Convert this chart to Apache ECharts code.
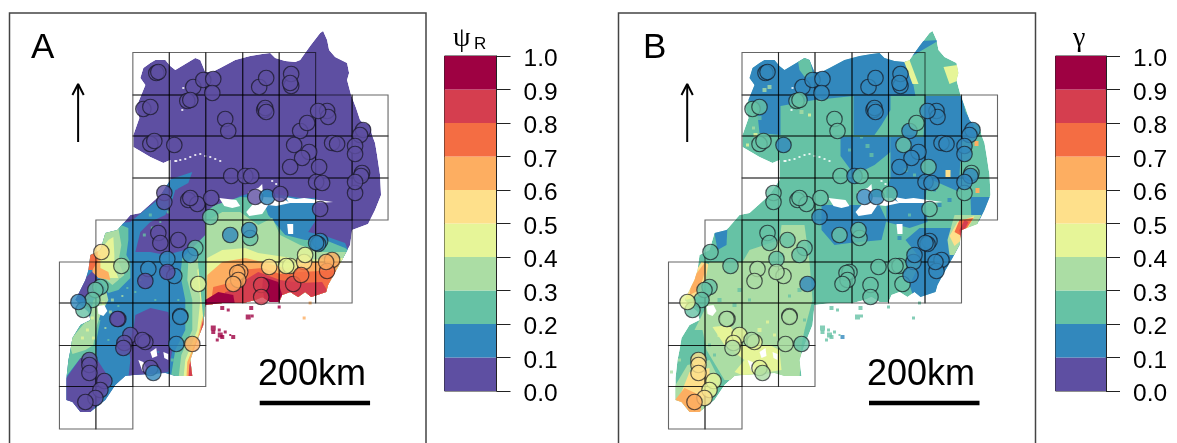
<!DOCTYPE html>
<html><head><meta charset="utf-8">
<style>html,body{margin:0;padding:0;background:#fff}#c{width:1177px;height:443px}</style>
<script src="https://cdn.jsdelivr.net/npm/echarts@6/dist/echarts.min.js"></script>
</head><body><div id="c"></div>
<script>
// ten legend classes, 0.0-0.1 ... 0.9-1.0
const classColors = ['#5E4FA2','#3288BD','#66C2A5','#ABDDA4','#E6F598','#FEE08B','#FDAE61','#F46D43','#D53E4F','#9E0142'];
const classNames = [0,1,2,3,4,5,6,7,8,9];

// map frame units; panel A and B share the same geography
const outline = [[140,78],[143,68],[150,63],[155,60],[165,60],[170,66],[175,70],[185,64],[195,58],[200,60],[205,72],[212,72],[220,68],[235,60],[250,56],[262,54],[270,53],[275,58],[285,61],[295,62],[300,60],[310,46],[320,33],[323,31],[327,40],[329,50],[335,57],[347,63],[349,73],[347,80],[351,95],[356,108],[360,120],[362,122],[370,125],[372,135],[375,143],[377,155],[380,175],[381,195],[375,210],[368,224],[352,230],[350,245],[343,258],[335,272],[328,285],[326,292],[311,297],[305,292],[298,297],[290,292],[282,295],[279,302],[270,302],[262,297],[255,300],[243,303],[222,303],[205,305],[203,325],[195,345],[190,360],[192,376],[175,376],[165,373],[133,375],[125,376],[115,385],[105,400],[90,412],[80,412],[72,402],[66,400],[66,378],[68,360],[70,350],[72,338],[80,325],[90,320],[88,312],[75,300],[85,280],[88,270],[90,255],[100,250],[105,233],[117,230],[130,215],[140,213],[160,195],[170,180],[170,160],[163,163],[150,157],[133,147],[133,135],[139,118],[136,107],[145,85]];

const aBlueSouth = [[60,230],[100,225],[130,222],[142,212],[160,198],[168,180],[192,172],[188,183],[175,190],[171,203],[165,215],[150,222],[140,232],[135,252],[150,252],[165,255],[185,250],[200,250],[205,235],[207,213],[222,205],[240,196],[262,190],[280,195],[300,198],[316,198],[316,220],[308,232],[325,236],[345,243],[350,255],[360,262],[360,330],[230,330],[205,400],[60,430]];
const aPurpleCentre = [[135,315],[150,308],[168,312],[170,325],[168,345],[172,350],[168,372],[128,378],[130,360],[128,345],[133,330]];
const aPurpleSouthWest = [[80,358],[97,360],[110,380],[100,400],[88,415],[78,415],[62,402],[66,378]];
const aPurpleWest = [[72,300],[85,278],[95,268],[98,285],[88,300]];
const aTealWest = [[104,226],[118,224],[128,228],[128,240],[126,255],[130,262],[130,278],[118,290],[108,293],[100,280],[95,265],[85,258],[95,245]];
const aGreenWest = [[106,228],[118,228],[121,245],[118,262],[124,275],[112,285],[100,275],[92,262],[95,248]];
const aYellowWest = [[108,240],[113,237],[114,255],[114,268],[118,278],[108,278],[96,265],[92,255],[100,250]];
const aOrangeWest = [[92,255],[100,255],[100,268],[108,272],[110,280],[98,278],[92,272]];
const aRedOrangeWest = [[85,252],[98,250],[97,262],[92,270],[85,270]];
const aTealSouthWest = [[60,335],[85,316],[100,320],[95,345],[97,360],[80,358],[67,375],[60,390]];
const aGreenSouthWest = [[68,342],[85,322],[97,320],[93,345],[85,350],[72,354]];
const aMosaicWest = [[93,300],[106,292],[108,300],[100,315],[95,330],[88,325]];
const aTealEast = [[182,258],[205,235],[230,300],[210,340],[195,380],[170,380],[175,350],[185,330],[185,300],[180,275]];
const aGreenEast = [[188,262],[205,240],[230,300],[215,340],[198,380],[178,380],[181,355],[192,330],[192,300],[187,280]];
const aYellowEast = [[197,270],[210,255],[230,300],[215,340],[198,380],[183,380],[185,360],[197,330],[200,300]];
const aOrangeEast = [[205,275],[220,265],[235,300],[215,340],[198,380],[186,380],[187,362],[198,335],[204,310],[207,295]];
const aRedEast = [[210,290],[230,295],[215,340],[198,380],[188,380],[189,365],[198,340]];
const aTealMid = [[205,212],[215,205],[240,197],[262,198],[268,215],[285,235],[305,240],[325,240],[345,248],[360,260],[360,340],[205,340],[197,255],[205,235]];
const aGreenMid = [[205,222],[222,212],[240,212],[258,225],[272,218],[280,235],[300,245],[320,252],[345,252],[360,260],[360,340],[205,340]];
const aYellowMid = [[207,258],[222,250],[245,248],[258,253],[285,257],[300,260],[345,258],[360,262],[360,340],[205,340]];
const aOrangeMid = [[207,275],[222,262],[245,258],[262,262],[285,268],[310,262],[345,262],[360,268],[360,340],[205,340]];
const aRedOrangeMid = [[213,287],[233,282],[240,270],[262,268],[280,274],[300,272],[340,270],[330,285],[360,340],[205,340]];
const aRedMid = [[225,292],[240,288],[245,280],[258,272],[280,280],[300,283],[322,282],[328,292],[328,340],[205,340]];
const aDarkRedA = [[263,277],[278,282],[282,295],[277,303],[265,303],[262,288]];
const aDarkRedB = [[205,300],[218,292],[233,295],[235,306],[205,310]];

const bBlueNorth = [[130,60],[155,50],[330,40],[296,60],[302,75],[306,96],[281,96],[281,110],[272,125],[265,135],[244,135],[244,96],[205,100],[171,106],[171,135],[150,133],[147,105],[130,95]];
const bTealTop = [[188,58],[200,58],[204,76],[196,78],[190,70]];
const bBlueEast = [[316,96],[352,96],[356,112],[364,125],[366,136],[352,142],[350,175],[350,192],[318,178],[316,200],[318,222],[300,228],[277,222],[277,190],[281,178],[281,137],[314,137]];
const bBlueCentre = [[231,137],[281,137],[281,152],[265,165],[245,175],[231,156]];
const bBlueLake = [[212,205],[270,205],[277,220],[272,240],[240,243],[225,245],[212,230]];
const bBlueSouthEast = [[296,240],[310,228],[345,228],[352,250],[340,275],[328,292],[305,300],[300,285],[312,260]];
const bBlueEdge = [[361,197],[385,197],[375,220],[362,222]];
const bBlueWestTop = [[104,228],[118,226],[117,245],[108,250]];
const bGreenWest = [[90,290],[100,262],[133,262],[140,250],[170,240],[172,225],[195,225],[200,262],[203,300],[195,330],[192,345],[190,380],[130,380],[115,380],[97,350],[93,330],[85,330],[100,300]];
const bYellowWest = [[103,327],[120,325],[133,345],[160,345],[170,350],[172,370],[135,376],[125,372],[135,360],[115,345]];
const bGreenSouthWest = [[78,365],[100,360],[110,380],[105,395],[90,415],[62,405],[66,385]];
const bYellowSouthWest = [[80,372],[100,368],[100,390],[85,408],[68,402]];
const bOrangeSouthWest = [[64,402],[75,388],[90,395],[92,415],[75,415]];
const bYellowStreak = [[92,262],[99,264],[96,280],[90,296],[76,300],[78,285]];
const bOrangeStreak = [[95,263],[95,273],[90,290],[80,295],[82,280]];
const bYellowNorthA = [[334,67],[348,65],[350,80],[340,84]];
const bYellowNorthB = [[294,60],[300,60],[309,84],[303,84]];
const bGreenHot = [[338,240],[345,215],[372,215],[352,255],[340,255]];
const bYellowHot = [[340,236],[348,222],[365,216],[352,240],[345,246]];
const bOrangeHot = [[345,232],[350,220],[364,218],[352,236]];
const bRedHot = [[350,230],[355,220],[359,222],[351,238]];
const bYellowSpots = [[336,170],[341,170],[341,177],[336,177]];
const bOrangeSpotA = [[365,141],[369,141],[369,146],[365,146]];
const bOrangeSpotB = [[366,188],[370,188],[370,193],[366,193]];

const lakeA = [[219,198],[236,200],[240,206],[232,208],[224,206]];
const lakeB = [[248,192],[258,188],[262,184],[263,197],[282,198],[290,203],[276,206],[268,205],[262,214],[249,216],[246,212],[252,205],[248,200]];
const lakeC = [[285,197],[296,199],[304,198],[333,202],[320,203],[300,203],[289,203]];
const lakeD = [[287,224],[293,224],[293,234],[288,234]];
const lakeE = [[97,306],[104,305],[107,311],[103,316],[98,314]];
const lakeF = [[138,360],[143,362],[148,372],[142,371]];
const lakeG = [[150,352],[156,348],[157,356],[152,358]];
const lakeH = [[163,352],[168,354],[168,360],[164,358]];
const lakes = [lakeA,lakeB,lakeC,lakeD,lakeE,lakeF,lakeG,lakeH];
const whiteDots = [[175,161],[180,160],[185,159],[190,157],[195,155],[200,154],[205,156],[210,157],[215,159],[220,161],[176,161],[182,110],[183,88],[272,181],[276,184]];

const layersA = [
 [0,outline],[1,aBlueSouth],[0,aPurpleCentre],[0,aPurpleSouthWest],[0,aPurpleWest],
 [2,aTealSouthWest],[3,aGreenSouthWest],[3,aMosaicWest],
 [2,aTealWest],[3,aGreenWest],[4,aYellowWest],[6,aOrangeWest],[7,aRedOrangeWest],
 [2,aTealEast],[3,aGreenEast],[4,aYellowEast],[6,aOrangeEast],[8,aRedEast],
 [2,aTealMid],[3,aGreenMid],[4,aYellowMid],[6,aOrangeMid],[7,aRedOrangeMid],[8,aRedMid],[9,aDarkRedA],[9,aDarkRedB]
];
const layersB = [
 [2,outline],[1,bBlueNorth],[2,bTealTop],[1,bBlueEast],[1,bBlueCentre],[1,bBlueLake],[1,bBlueSouthEast],[1,bBlueEdge],[1,bBlueWestTop],
 [3,bGreenWest],[4,bYellowWest],[3,bGreenSouthWest],[5,bYellowSouthWest],[6,bOrangeSouthWest],[5,bYellowStreak],[6,bOrangeStreak],
 [4,bYellowNorthA],[4,bYellowNorthB],[3,bGreenHot],[5,bYellowHot],[7,bOrangeHot],[8,bRedHot],[5,bYellowSpots],[6,bOrangeSpotA],[6,bOrangeSpotB]
];

// mottled raster cells inside the maps [x,y,size,class]
const mottleA = [[98,296,3,3],[103,303,3,4],[92,318,3,4],[112,300,3,3],[118,306,2,2],[110,312,3,3],[87,330,3,4],[93,338,3,4],[82,338,3,4],[122,296,2,3],[127,288,2,2],[112,320,2,2],[140,280,2,2],[135,292,2,2],[105,328,2,3],[108,340,2,2],[168,262,2,2],[155,300,2,2],[178,300,2,2],[120,280,3,2],[144,235,3,2],[152,228,3,2],[160,222,2,2],[168,212,3,2],[150,215,3,2],[176,188,3,1],[158,352,2,1],[172,360,3,2]];
const mottleB = [[150,118,4,2],[155,90,4,3],[160,87,4,3],[144,128,3,3],[146,135,4,4],[138,145,3,4],[192,112,4,3],[200,115,3,4],[210,100,3,3],[258,146,4,2],[262,155,4,2],[240,150,3,2],[252,137,3,2],[296,170,4,2],[305,175,3,2],[350,160,3,1],[345,185,4,1],[330,170,4,1],[325,190,3,1],[340,200,4,1],[330,205,4,1],[300,215,3,2],[275,235,3,2],[290,238,4,1],[110,335,4,4],[118,340,3,4],[125,325,3,3],[150,330,4,4],[158,322,3,4],[165,335,3,4],[125,305,4,2],[110,300,4,2],[100,345,3,2],[105,355,3,2],[130,290,4,2],[140,300,3,2],[172,255,4,2],[195,320,3,2],[190,290,4,2],[180,296,3,2],[70,360,3,3],[62,372,3,3]];

// isolated raster fragments south of the country edge
const fragments = [[251,308,4],[248,317,5],[252,316,3],[279,307,3],[310,303,3],[304,318,3],[225,332,3],[222,337,4],[233,337,4],[230,335,2],[213,328,5],[220,335,5],[217,340,3],[222,308,4],[228,310,3],[213,332,4],[219,330,3]];
const fragmentPsi = [9,9,9,9,6,6,9,9,9,9,9,9,9,9,9,9,9];
const fragmentGamma = [2,2,2,2,2,2,2,2,1,2,2,2,2,2,2,2,2];

// survey grid cells [column,row]
const gridX = [59,95.5,132.5,169,205.5,242.5,279,315.5,352,388];
const gridY = [52.5,95,136,178,220,262,303,345.5,386.5,429];
const rowSpans = [[2,7],[2,9],[2,9],[2,9],[1,8],[0,8],[0,4],[0,4],[0,2]];

// survey sites (map frame), occupancy and detection class mid values
const sites = [[156,73],[158,72],[143,109],[150,107],[150,144],[154,141],[174,145],[193,87],[203,80],[213,79],[212,93],[187,101],[190,100],
[164,193],[164,202],[188,200],[197,204],[190,198],[211,198],[210,217],[259,87],[266,78],[291,86],[291,74],[290,83],[264,110],[265,108],[266,112],
[225,119],[228,131],[327,111],[328,117],[318,111],[300,131],[307,123],[294,145],[309,152],[302,158],[290,167],[319,167],[316,182],[322,183],[332,143],[337,144],
[363,130],[360,135],[355,146],[355,154],[362,173],[361,176],[355,193],[355,182],[231,176],[245,176],[251,176],[255,197],[267,197],[280,194],[320,209],
[158,233],[160,243],[178,240],[195,248],[190,255],[174,276],[167,259],[148,269],[167,272],[145,281],[101,252],[121,266],[198,284],
[100,287],[95,290],[92,300],[83,310],[78,302],[118,319],[117,319],[180,316],[180,317],[130,335],[145,342],[142,340],[124,343],[123,348],[176,344],[192,344],[150,368],[153,373],
[89,360],[89,365],[89,373],[104,381],[100,390],[95,398],[85,402],[250,238],[230,235],[249,230],[320,241],[318,244],[316,243],
[240,272],[237,273],[238,280],[233,284],[261,285],[261,297],[269,267],[290,266],[286,266],[304,262],[305,255],[332,260],[327,271],[326,262],[293,284],[301,275]];
const psi = [.05,.05,.05,.05,.05,.05,.05,.05,.05,.05,.05,.05,.05,
.05,.05,.05,.05,.05,.05,.25,.05,.05,.05,.05,.05,.05,.05,.05,
.05,.05,.05,.05,.05,.05,.05,.05,.05,.05,.05,.05,.05,.05,.05,.05,
.05,.05,.05,.05,.05,.05,.05,.05,.05,.05,.05,.05,.15,.05,.05,
.05,.05,.05,.25,.15,.15,.15,.15,.05,.05,.55,.35,.45,
.25,.25,.25,.25,.15,.05,.05,.15,.15,.05,.05,.05,.05,.05,.15,.65,.05,.15,
.05,.05,.05,.05,.05,.05,.05,.25,.15,.15,.15,.15,.15,
.65,.65,.65,.65,.85,.85,.55,.45,.45,.55,.45,.65,.75,.65,.85,.75];
const gamma = [.15,.15,.25,.25,.25,.25,.15,.15,.15,.15,.15,.25,.25,
.25,.25,.25,.25,.25,.25,.15,.15,.15,.15,.15,.15,.15,.15,.15,
.25,.25,.15,.15,.15,.15,.25,.25,.15,.15,.15,.25,.15,.15,.15,.15,
.15,.15,.15,.15,.25,.15,.25,.15,.25,.15,.25,.15,.15,.25,.25,
.25,.25,.25,.25,.25,.35,.25,.35,.35,.35,.25,.25,.15,
.25,.25,.25,.25,.45,.35,.35,.35,.35,.45,.45,.35,.45,.35,.35,.25,.45,.35,
.55,.55,.55,.45,.45,.55,.65,.25,.25,.25,.15,.15,.15,
.25,.25,.25,.25,.25,.25,.25,.25,.25,.15,.15,.15,.15,.15,.25,.15];

const northArrow = [[77.7,142],[77.7,84]];
const arrowHeadLeft = [[72,95],[77.7,84],[83.3,95]];
const scaleBar = [[259.5,403],[370,403]];

function polyLayerSeries(idx, layers){
  return {type:'custom',coordinateSystem:'cartesian2d',xAxisIndex:idx,yAxisIndex:idx,z:1,silent:true,clip:true,
    data:layers.map((l,i)=>[i]),
    encode:{x:[],y:[]},
    renderItem:(p,api)=>{
      const l=layers[api.value(0)];
      return {type:'polygon',shape:{points:l[1].map(q=>api.coord(q))},style:{fill:classColors[l[0]]},
        clipPath:{type:'polygon',shape:{points:outline.map(q=>api.coord(q))}}};
    }};
}
function mottleSeries(idx,cells){
  return {type:'scatter',xAxisIndex:idx,yAxisIndex:idx,z:1.5,silent:true,symbol:'rect',
    data:cells.map(f=>({value:[f[0],f[1]],symbolSize:f[2],itemStyle:{color:classColors[f[3]]}}))};
}
function lakeSeries(idx){
  return {type:'custom',xAxisIndex:idx,yAxisIndex:idx,z:2,silent:true,data:lakes.map((l,i)=>[i]),encode:{x:[],y:[]},
    renderItem:(p,api)=>({type:'polygon',shape:{points:lakes[api.value(0)].map(q=>api.coord(q))},style:{fill:'#fff'}})};
}
function dotSeries(idx){
  return {type:'scatter',xAxisIndex:idx,yAxisIndex:idx,z:2,silent:true,symbol:'rect',symbolSize:2,data:whiteDots,itemStyle:{color:'#fff'}};
}
function fragmentSeries(idx,vals){
  return {type:'scatter',xAxisIndex:idx,yAxisIndex:idx,z:2,silent:true,symbol:'rect',
    data:fragments.map((f,i)=>({value:[f[0],f[1]],symbolSize:f[2],itemStyle:{color:classColors[vals[i]]}}))};
}
function cellSeries(idx){
  const cells=[];
  rowSpans.forEach((s,r)=>{for(let c=s[0];c<s[1];c++)cells.push([c,r]);});
  return {type:'custom',xAxisIndex:idx,yAxisIndex:idx,z:3,silent:true,data:cells,encode:{x:[],y:[]},
    renderItem:(p,api)=>{
      const c=api.value(0),r=api.value(1);
      const a=api.coord([gridX[c],gridY[r]]),b=api.coord([gridX[c+1],gridY[r+1]]);
      return {type:'rect',shape:{x:a[0],y:a[1],width:b[0]-a[0],height:b[1]-a[1]},style:{fill:'none',stroke:'rgba(0,0,0,0.6)',lineWidth:1.1}};
    }};
}
function siteSeries(idx,vals){
  return {type:'scatter',xAxisIndex:idx,yAxisIndex:idx,z:4,silent:true,symbol:'circle',symbolSize:15.5,
    data:sites.map((s,i)=>({value:s,itemStyle:{color:classColors[Math.floor(vals[i]*10)]}})),
    itemStyle:{borderColor:'rgba(20,20,30,0.85)',borderWidth:1.2}};
}
function lineSeries(idx,pts,w){
  return {type:'line',xAxisIndex:idx,yAxisIndex:idx,z:5,silent:true,symbol:'none',data:pts,lineStyle:{color:'#000',width:w,cap:'butt'},animation:false};
}
function legendSeries(idx){
  return {type:'custom',xAxisIndex:idx,yAxisIndex:idx,z:2,silent:true,data:classNames.map(i=>[i]),encode:{x:[],y:[]},
    renderItem:(p,api)=>{
      const i=api.value(0);
      const a=api.coord([0,(i+1)/10]),b=api.coord([1,i/10]);
      return {type:'rect',shape:{x:a[0],y:a[1],width:b[0]-a[0],height:b[1]-a[1]},style:{fill:classColors[i],stroke:null}};
    }};
}
const panelAxis=(g)=>({gridIndex:g,type:'value',min:9,max:426,show:false});
const panelAxisY=(g)=>({gridIndex:g,type:'value',min:13,max:453,inverse:true,show:false});
const legAxisX=(g)=>({gridIndex:g,type:'value',min:0,max:1,show:false});
const legAxisY=(g)=>({gridIndex:g,type:'value',min:0,max:1,interval:0.1,position:'right',show:true,z:20,
  axisLine:{show:true,onZero:false,lineStyle:{color:'#222',width:1}},
  axisTick:{show:true,inside:false,length:14,lineStyle:{color:'#222',width:1}},
  axisLabel:{show:true,margin:27,formatter:v=>'{a|'+v.toFixed(1)+'}',rich:{a:{fontSize:24.5,color:'#000',fontFamily:'Liberation Sans',padding:[7,0,0,0]}}},
  splitLine:{show:false}});

const option={
  animation:false,backgroundColor:'#fff',
  grid:[
    {left:9.5,top:13,width:416.5,height:440,outerBoundsMode:'none',show:true,borderColor:'#444',borderWidth:1.5,backgroundColor:'#fff'},
    {left:618.5,top:13,width:417,height:440,outerBoundsMode:'none',show:true,borderColor:'#444',borderWidth:1.5,backgroundColor:'#fff'},
    {left:444.5,top:56,width:52,height:335,outerBoundsMode:'none',show:true,borderColor:'#222',borderWidth:1},
    {left:1055.5,top:56,width:50.5,height:335,outerBoundsMode:'none',show:true,borderColor:'#222',borderWidth:1}
  ],
  xAxis:[panelAxis(0),panelAxis(1),legAxisX(2),legAxisX(3)],
  yAxis:[panelAxisY(0),panelAxisY(1),legAxisY(2),legAxisY(3)],
  series:[
    polyLayerSeries(0,layersA),mottleSeries(0,mottleA),lakeSeries(0),dotSeries(0),fragmentSeries(0,fragmentPsi),cellSeries(0),siteSeries(0,psi),
    lineSeries(0,northArrow,2),lineSeries(0,arrowHeadLeft,2),lineSeries(0,scaleBar,4.5),
    polyLayerSeries(1,layersB),mottleSeries(1,mottleB),lakeSeries(1),dotSeries(1),fragmentSeries(1,fragmentGamma),cellSeries(1),siteSeries(1,gamma),
    lineSeries(1,northArrow,2),lineSeries(1,arrowHeadLeft,2),lineSeries(1,scaleBar,4.5),
    legendSeries(2),legendSeries(3)
  ],
  graphic:[
    {type:'text',left:31,top:31,style:{text:'A',font:'35px "Liberation Sans"',fill:'#000'}},
    {type:'text',left:643,top:31,style:{text:'B',font:'35px "Liberation Sans"',fill:'#000'}},
    {type:'text',left:258,top:357,style:{text:'200km',font:'36px "Liberation Sans"',fill:'#000'}},
    {type:'text',left:867,top:357,style:{text:'200km',font:'36px "Liberation Sans"',fill:'#000'}},
    {type:'text',left:453,top:25,style:{text:'ψ',font:'28px "Liberation Serif"',fill:'#000'}},
    {type:'text',left:474,top:36,style:{text:'R',font:'17px "Liberation Sans"',fill:'#000'}},
    {type:'text',left:1073,top:25,style:{text:'γ',font:'28px "Liberation Serif"',fill:'#000'}}
  ]
};
const chart=echarts.init(document.getElementById('c'),null,{renderer:'canvas'});
chart.setOption(option);
</script></body></html>
